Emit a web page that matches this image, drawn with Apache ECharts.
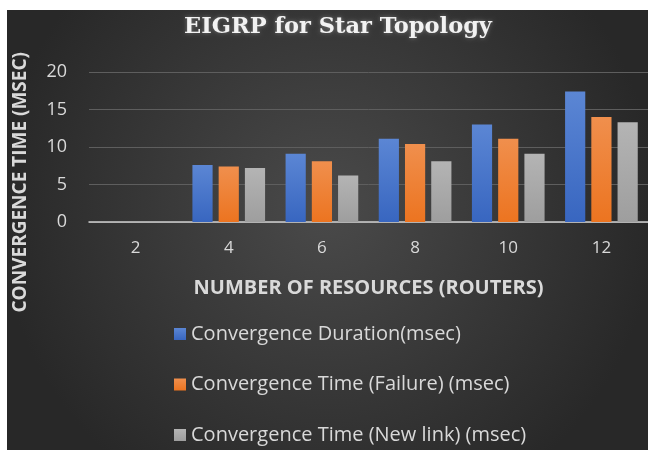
<!DOCTYPE html>
<html><head><meta charset="utf-8">
<script src="https://cdn.jsdelivr.net/npm/echarts@6/dist/echarts.min.js"></script>
<style>html,body{margin:0;padding:0;background:#fff;}#c{width:648px;height:450px;}</style>
</head><body><div id="c"></div>
<script>
const categories = ['2', '4', '6', '8', '10', '12'];
const durationValues = [0, 7.6, 9.1, 11.1, 13.0, 17.4];
const failureValues = [0, 7.4, 8.1, 10.4, 11.1, 14.0];
const newLinkValues = [0, 7.2, 6.2, 8.1, 9.1, 13.3];
const seriesNames = ['Convergence Duration(msec)', 'Convergence Time (Failure) (msec)', 'Convergence Time (New link) (msec)'];
const yTicks = [0, 5, 10, 15, 20];

function grad(top, bottom) {
  return new echarts.graphic.LinearGradient(0, 0, 0, 1, [{offset: 0, color: top}, {offset: 1, color: bottom}]);
}
const chart = echarts.init(document.getElementById('c'), null, {renderer: 'canvas'});
const labelFont = '"Open Sans", Lato, sans-serif';
chart.setOption({
  animation: false,
  backgroundColor: '#ffffff',
  graphic: [
    {type: 'rect', left: 7, top: 10, z: -10, shape: {width: 641, height: 440},
     style: {fill: new echarts.graphic.RadialGradient(0.5, 0.45, 0.75, [{offset: 0, color: '#4a4a4a'}, {offset: 1, color: '#282828'}])}},
    {type: 'text', left: 11, top: 52, rotation: Math.PI / 2, z: 10,
     style: {text: 'CONVERGENCE TIME (MSEC)', fill: '#d9d9d9', font: 'bold 19px ' + labelFont}},
    {type: 'text', x: 338, y: 16, z: 10,
     style: {text: 'EIGRP for Star Topology', fill: '#f2f2f2', align: 'center', verticalAlign: 'top',
       font: 'bold 22.5px "DejaVu Serif", "Liberation Serif", serif',
       textShadowColor: 'rgba(255,255,255,0.35)', textShadowBlur: 4}}
  ],
  legend: {orient: 'vertical', left: 169, top: 319, itemGap: 30.5, itemWidth: 12, itemHeight: 12,
    icon: 'rect', textStyle: {color: '#d9d9d9', fontSize: 20, fontFamily: labelFont}, data: seriesNames},
  grid: {left: 89, right: -5, top: 72, bottom: 228, containLabel: false},
  xAxis: {type: 'category', data: categories,
    axisLine: {lineStyle: {color: '#d0d0d0', width: 1.5}}, axisTick: {show: false},
    axisLabel: {color: '#d9d9d9', fontSize: 17, fontFamily: labelFont, margin: 18},
    name: 'NUMBER OF RESOURCES (ROUTERS)', nameLocation: 'middle', nameGap: 56,
    nameTextStyle: {color: '#d9d9d9', fontSize: 20, fontWeight: 'bold', fontFamily: labelFont}},
  yAxis: {type: 'value', min: yTicks[0], max: yTicks[yTicks.length - 1], interval: 5,
    axisLine: {show: false}, axisTick: {show: false},
    axisLabel: {color: '#d9d9d9', fontSize: 18, fontFamily: labelFont, margin: 22},
    splitLine: {lineStyle: {color: '#5e5e5e', width: 1}}},
  series: [
    {name: seriesNames[0], type: 'bar', data: durationValues, barGap: '30%', barCategoryGap: '22%',
     itemStyle: {color: grad('#5b86d4', '#3866c0')}},
    {name: seriesNames[1], type: 'bar', data: failureValues,
     itemStyle: {color: grad('#f08f4d', '#ec7420')}},
    {name: seriesNames[2], type: 'bar', data: newLinkValues,
     itemStyle: {color: grad('#b4b4b4', '#9e9e9e')}}
  ]
});
</script></body></html>
